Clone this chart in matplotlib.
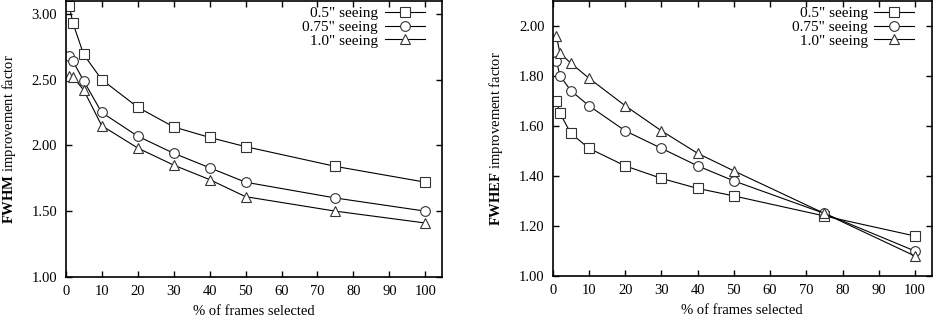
import numpy as np
import matplotlib
matplotlib.use("Agg")
import matplotlib.pyplot as plt
from matplotlib.ticker import MultipleLocator, FormatStrFormatter

# % of frames selected
frames = [1, 2, 5, 10, 20, 30, 40, 50, 75, 100]
labels = ['0.5" seeing', '0.75" seeing', '1.0" seeing']
markers = ['s', 'o', '^']

# FWHM improvement factor
fwhm_05 = [3.06, 2.93, 2.69, 2.50, 2.29, 2.14, 2.06, 1.99, 1.84, 1.72]
fwhm_075 = [2.68, 2.64, 2.49, 2.25, 2.07, 1.94, 1.83, 1.72, 1.60, 1.50]
fwhm_10 = [2.53, 2.52, 2.42, 2.15, 1.98, 1.85, 1.74, 1.61, 1.50, 1.41]

# FWHEF improvement factor
fwhef_05 = [1.70, 1.65, 1.57, 1.51, 1.44, 1.39, 1.35, 1.32, 1.24, 1.16]
fwhef_075 = [1.86, 1.80, 1.74, 1.68, 1.58, 1.51, 1.44, 1.38, 1.25, 1.10]
fwhef_10 = [1.96, 1.89, 1.85, 1.79, 1.68, 1.58, 1.49, 1.42, 1.25, 1.08]

plt.rcParams['font.family'] = ['Liberation Serif', 'DejaVu Serif']
plt.rcParams['font.size'] = 10
plt.rcParams['mathtext.fontset'] = 'custom'
plt.rcParams['mathtext.rm'] = 'Liberation Serif'
plt.rcParams['mathtext.bf'] = 'Liberation Serif:bold'

fig = plt.figure(figsize=(9.33, 3.17), dpi=100)
ax1 = fig.add_axes([0.0704, 0.1262, 0.4033, 0.8722])
ax2 = fig.add_axes([0.5924, 0.1290, 0.4062, 0.8694])


def draw(ax, series, ylim, ystep, ylabel):
    for ys, lab, m in zip(series, labels, markers):
        ax.plot(frames, ys, color='black', lw=0.8, marker=m, markersize=7,
                markerfacecolor='white', markeredgecolor='#333333',
                markeredgewidth=0.8, label=lab)
    ax.set_xlim(0, 104.6)
    ax.set_ylim(*ylim)
    ax.set_xticks(np.arange(0, 101, 10))
    ax.yaxis.set_major_locator(MultipleLocator(ystep))
    ax.yaxis.set_major_formatter(FormatStrFormatter('%.2f'))
    ax.tick_params(direction='in', top=True, right=True, length=4,
                   width=1, labelsize=10.5, pad=6)
    for s in ax.spines.values():
        s.set_linewidth(1.2)
    ax.set_xlabel('% of frames selected', fontsize=10.5, labelpad=4.5)
    ax.set_ylabel(ylabel, fontsize=10.5, labelpad=10)
    ax.legend(loc='upper right', markerfirst=False, frameon=False,
              fontsize=11, handlelength=2.6, handletextpad=0.45,
              labelspacing=0.0, borderaxespad=0.0,
              bbox_to_anchor=(0.97, 1.0))


draw(ax1, [fwhm_05, fwhm_075, fwhm_10], (1.0, 3.1), 0.5,
     r'$\mathbf{FWHM}$ improvement factor')
draw(ax2, [fwhef_05, fwhef_075, fwhef_10], (1.0, 2.1), 0.2,
     r'$\mathbf{FWHEF}$ improvement factor')

fig.savefig("out.png", dpi=100)
